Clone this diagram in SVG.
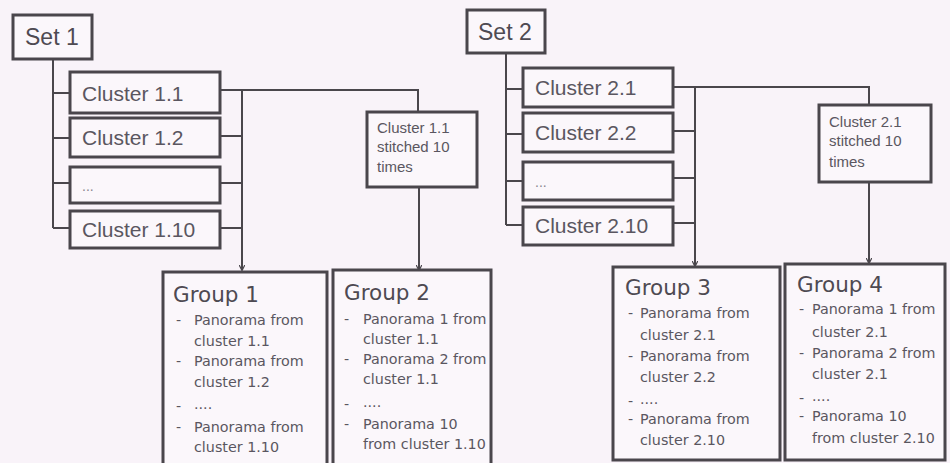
<svg xmlns="http://www.w3.org/2000/svg" width="950" height="463" viewBox="0 0 950 463">
<defs>
<marker id="ah" viewBox="0 0 10 10" refX="9" refY="5" markerWidth="6" markerHeight="6" orient="auto" markerUnits="userSpaceOnUse">
<path d="M0,0 L10,5 L0,10" fill="none" stroke="#4a464c" stroke-width="2"/>
</marker>
<style>
.bx{fill:#fbf7fb;stroke:#4a464c;stroke-width:3}
.ln{fill:none;stroke:#4a464c;stroke-width:2}
.set{font-family:"Liberation Sans",Arial,sans-serif;font-size:23px;fill:#4e4a52}
.cl{font-family:"Liberation Sans",Arial,sans-serif;font-size:21px;fill:#5a5660}
.st{font-family:"Liberation Sans",Arial,sans-serif;font-size:15px;fill:#5a5660}
.dt{font-family:"Liberation Sans",Arial,sans-serif;font-size:14px;fill:#8a8690}
.gt{font-family:"DejaVu Sans",Verdana,sans-serif;font-size:21.5px;fill:#4e4a52}
.gi{font-family:"DejaVu Sans",Verdana,sans-serif;font-size:14.3px;fill:#5a5660}
</style>
</defs>
<rect width="950" height="463" fill="#f9f3f9"/>

<g id="connectors">
<path class="ln" d="M53,59 V228 M53,93 H70 M53,138 H70 M53,183 H70 M53,228 H70"/>
<path class="ln" d="M220,90 H418 V112 M220,136 H242 M220,183 H242 M220,228 H242"/>
<path class="ln" d="M242,90 V270" marker-end="url(#ah)"/>
<path class="ln" d="M419,187 V270" marker-end="url(#ah)"/>
<path class="ln" d="M506,53 V225 M506,89 H523 M506,134 H523 M506,181 H523 M506,225 H523"/>
<path class="ln" d="M673,87 H869 V105 M673,131 H695 M673,178 H695 M673,223 H695"/>
<path class="ln" d="M695,87 V266" marker-end="url(#ah)"/>
<path class="ln" d="M869,182 V263" marker-end="url(#ah)"/>
</g>

<g id="set1"><rect class="bx" x="13" y="15" width="79" height="44"/><text class="set" x="25" y="45">Set 1</text></g>
<g id="cluster11"><rect class="bx" x="70" y="72" width="150" height="41"/><text class="cl" x="82" y="101">Cluster 1.1</text></g>
<g id="cluster12"><rect class="bx" x="70" y="118" width="150" height="39"/><text class="cl" x="82" y="145">Cluster 1.2</text></g>
<g id="cluster1dots"><rect class="bx" x="70" y="167" width="150" height="36"/><text class="dt" x="82" y="191">...</text></g>
<g id="cluster110"><rect class="bx" x="70" y="211" width="150" height="37"/><text class="cl" x="82" y="237">Cluster 1.10</text></g>
<g id="stitched1"><rect class="bx" x="367" y="112" width="110" height="75"/>
<text class="st" x="377" y="133">Cluster 1.1</text><text class="st" x="377" y="152">stitched 10</text><text class="st" x="377" y="172">times</text></g>

<g id="set2"><rect class="bx" x="467" y="10" width="78" height="43"/><text class="set" x="478" y="40">Set 2</text></g>
<g id="cluster21"><rect class="bx" x="523" y="68" width="150" height="39"/><text class="cl" x="535" y="95">Cluster 2.1</text></g>
<g id="cluster22"><rect class="bx" x="523" y="113" width="150" height="39"/><text class="cl" x="535" y="140">Cluster 2.2</text></g>
<g id="cluster2dots"><rect class="bx" x="523" y="162" width="150" height="38"/><text class="dt" x="535" y="187">...</text></g>
<g id="cluster210"><rect class="bx" x="523" y="207" width="150" height="38"/><text class="cl" x="535" y="233">Cluster 2.10</text></g>
<g id="stitched2"><rect class="bx" x="819" y="105" width="112" height="77"/>
<text class="st" x="829" y="127">Cluster 2.1</text><text class="st" x="829" y="146">stitched 10</text><text class="st" x="829" y="167">times</text></g>

<g id="group1"><rect class="bx" x="163" y="272" width="164" height="195"/>
<text class="gt" x="173" y="302">Group 1</text>
<text class="gi"><tspan x="176" y="325">-</tspan><tspan x="194" y="325">Panorama from</tspan><tspan x="194" y="346">cluster 1.1</tspan><tspan x="176" y="366">-</tspan><tspan x="194" y="366">Panorama from</tspan><tspan x="194" y="387">cluster 1.2</tspan><tspan x="176" y="411">-</tspan><tspan x="194" y="409">....</tspan><tspan x="176" y="432">-</tspan><tspan x="194" y="432">Panorama from</tspan><tspan x="194" y="452">cluster 1.10</tspan></text></g>

<g id="group2"><rect class="bx" x="333" y="270" width="158" height="197"/>
<text class="gt" x="344" y="300">Group 2</text>
<text class="gi"><tspan x="344" y="324">-</tspan><tspan x="363" y="324">Panorama 1 from</tspan><tspan x="363" y="344">cluster 1.1</tspan><tspan x="344" y="364">-</tspan><tspan x="363" y="364">Panorama 2 from</tspan><tspan x="363" y="384">cluster 1.1</tspan><tspan x="344" y="409">-</tspan><tspan x="363" y="407">....</tspan><tspan x="344" y="429">-</tspan><tspan x="363" y="429">Panorama 10</tspan><tspan x="363" y="449">from cluster 1.10</tspan></text></g>

<g id="group3"><rect class="bx" x="613" y="267" width="167" height="193"/>
<text class="gt" x="625" y="295">Group 3</text>
<text class="gi"><tspan x="628" y="318">-</tspan><tspan x="640" y="318">Panorama from</tspan><tspan x="640" y="340">cluster 2.1</tspan><tspan x="628" y="361">-</tspan><tspan x="640" y="361">Panorama from</tspan><tspan x="640" y="382">cluster 2.2</tspan><tspan x="628" y="406">-</tspan><tspan x="640" y="404">....</tspan><tspan x="628" y="424">-</tspan><tspan x="640" y="424">Panorama from</tspan><tspan x="640" y="445">cluster 2.10</tspan></text></g>

<g id="group4"><rect class="bx" x="785" y="264" width="160" height="196"/>
<text class="gt" x="797" y="292">Group 4</text>
<text class="gi"><tspan x="799" y="314">-</tspan><tspan x="812" y="314">Panorama 1 from</tspan><tspan x="812" y="337">cluster 2.1</tspan><tspan x="799" y="358">-</tspan><tspan x="812" y="358">Panorama 2 from</tspan><tspan x="812" y="379">cluster 2.1</tspan><tspan x="799" y="403">-</tspan><tspan x="812" y="401">....</tspan><tspan x="799" y="421">-</tspan><tspan x="812" y="421">Panorama 10</tspan><tspan x="812" y="443">from cluster 2.10</tspan></text></g>
</svg>
